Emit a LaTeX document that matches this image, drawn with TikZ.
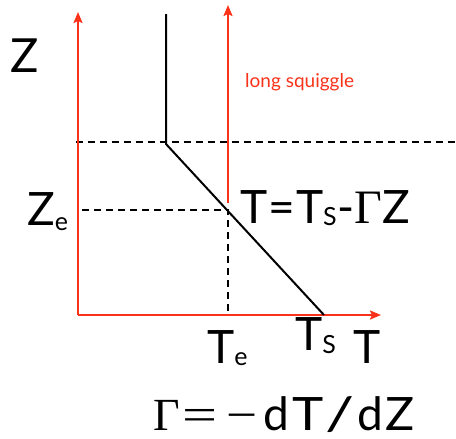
\documentclass[tikz,border=0pt]{standalone}
\usepackage{fontspec}
\setmainfont{Lato}
\newfontfamily\greekserif{Liberation Serif}
\usetikzlibrary{arrows.meta}
\definecolor{axisred}{RGB}{250,50,25}
\tikzset{
  redaxis/.style={draw=axisred, line width=2pt, -{Stealth[length=11pt,width=9pt,inset=2pt]}},
  profile/.style={draw=black, line width=2pt},
  guide/.style={draw=black, line width=1.4pt, dash pattern=on 7pt off 5pt},
  lbl/.style={inner sep=0pt, anchor=base west, font=\fontsize{46}{46}\selectfont},
}
\newcommand{\mysub}[1]{{\fontsize{25}{25}\selectfont #1}}
\begin{document}
\begin{tikzpicture}[x=1pt,y=-1pt]
\useasboundingbox (0,0) rectangle (456,439);
% coordinates
\coordinate (O) at (78,315);
\coordinate (Ztop) at (78,12);
\coordinate (Tend) at (381,315);
\coordinate (SqBot) at (228,203);
\coordinate (SqTop) at (228,5);
\coordinate (P0) at (166,14);
\coordinate (P1) at (166,144);
\coordinate (PS) at (324,315);
\coordinate (HL) at (76,142);
\coordinate (HR) at (456,142);
\coordinate (EL) at (82,210);
\coordinate (E) at (228,210);
\coordinate (EB) at (228,315);
% dashed guides
\draw[guide] (HL) -- (HR);
\draw[guide] (EL) -- (E) -- (EB);
% axes
\draw[redaxis] (O) -- (Ztop);
\draw[redaxis] (O) -- (Tend);
\draw[redaxis] (SqBot) -- (SqTop);
% profile
\draw[profile] (P0) -- (P1) -- (PS);
% labels
\node[lbl, font=\fontsize{47}{47}\selectfont] (zlab) at (10,72) {Z};
\node[lbl] (zelab) at (27,225) {Z\raisebox{-5pt}{\mysub{e}}};
\node[lbl] (eqlab) at (240,223) {T\hspace{1pt}=\hspace{1pt}T\raisebox{-2pt}{\mysub{S}}\hspace{1pt}-{\greekserif\fontsize{48}{48}\selectfont Γ}Z};
\node[lbl, text=axisred, font=\fontsize{19}{19}\selectfont] (sq) at (245,87) {long squiggle};
\node[lbl] (telab) at (207,363) {T\raisebox{-2pt}{\mysub{e}}};
\node[lbl] (tslab) at (295,350) {T\raisebox{-3pt}{\mysub{S}}};
\node[lbl] (tlab) at (353,363) {T};
\node[lbl] (gamma) at (153,430) {{\greekserif Γ\hspace{3pt}\scalebox{1.35}[1]{=}\hspace{9pt}\scalebox{1.2}[1]{−}}\hspace{6pt}d\hspace{3pt}\scalebox{1.15}[1]{T}\hspace{2pt}\scalebox{1.4}[1]{/}\hspace{2pt}d\hspace{3pt}\scalebox{1.05}[1]{Z}};
\end{tikzpicture}
\end{document}
